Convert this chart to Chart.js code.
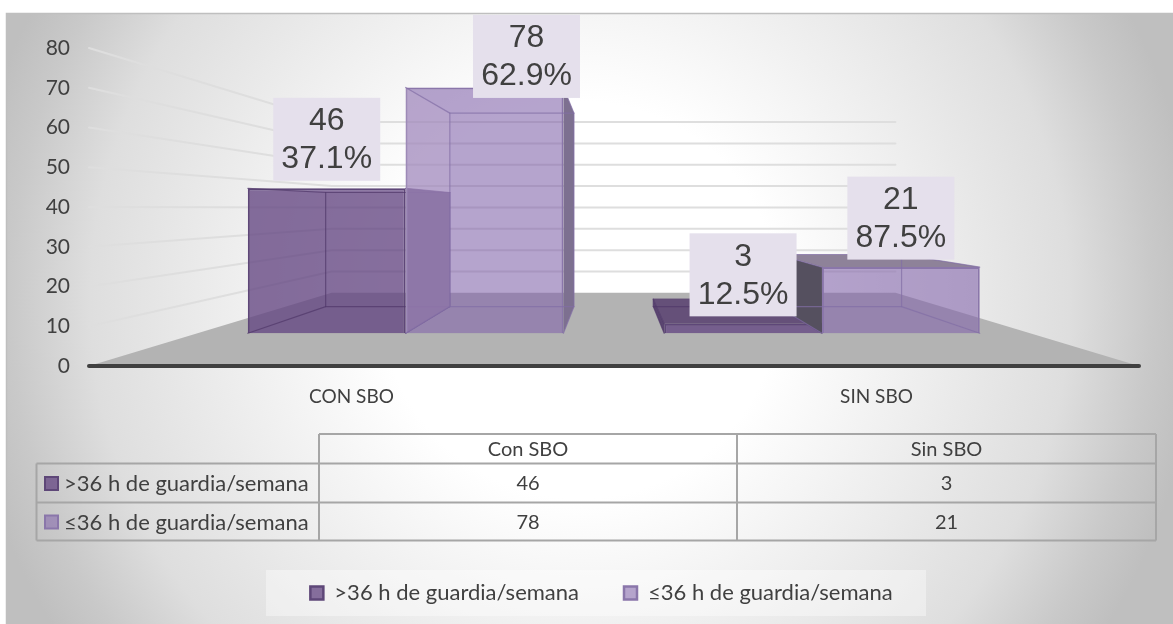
<!DOCTYPE html>
<html><head><meta charset="utf-8">
<style>html,body{margin:0;padding:0;background:#fff}canvas{display:block}</style>
<script src="https://cdn.jsdelivr.net/npm/chart.js@4"></script>
</head><body><canvas id="c" width="1173" height="624"></canvas>
<script>
const categories = ['CON SBO', 'SIN SBO'];
const tableColumns = ['Con SBO', 'Sin SBO'];
const seriesNames = ['>36 h de guardia/semana', '≤36 h de guardia/semana'];
const over36 = [46, 3];
const upTo36 = [78, 21];
const over36Pct = ['37.1%', '12.5%'];
const upTo36Pct = ['62.9%', '87.5%'];

const VP = {x: 613, y: 208};
const F_FRONT = 0.793, F_BACK = 0.624, F_WALL = 0.537;
const SANS = 'Lato, "Open Sans", sans-serif';
const styles = [
  {front:'rgba(100,70,130,0.77)', inner:'rgba(100,70,125,0.07)', edge:'#5e4778', line:'rgba(80,55,105,0.7)',
   outerLeft:'#5a4570', outerRight:'#5a4570', outerTop:'#655079'},
  {front:'rgba(130,100,170,0.57)', inner:'rgba(130,100,170,0.05)', edge:'#8a76aa', line:'rgba(130,110,165,0.7)',
   outerLeft:'#55505f', outerRight:'#7d7090', outerTop:'#8e8299', veil:'rgba(190,172,205,0.38)'}
];
const pctArrays = [over36Pct, upTo36Pct];
// label shift from the default spot above the bar's front face; the 78 label was moved in the source
const labelShift = [[[0,0],[0,0]], [[42,18],[0,0]]];

const project = (x, y, f) => [VP.x + (x - VP.x) * f, VP.y + (y - VP.y) * f];
function poly(ctx, pts, fill, stroke, lw) {
  ctx.beginPath();
  pts.forEach((p, i) => i ? ctx.lineTo(p[0], p[1]) : ctx.moveTo(p[0], p[1]));
  ctx.closePath();
  if (fill) { ctx.fillStyle = fill; ctx.fill(); }
  if (stroke) { ctx.strokeStyle = stroke; ctx.lineWidth = lw || 1; ctx.stroke(); }
}
function drawPrism(ctx, el, st) {
  const l = el.x - el.width / 2, r = el.x + el.width / 2, t = el.y, b = el.base;
  const fTL = project(l,t,F_FRONT), fTR = project(r,t,F_FRONT), fBL = project(l,b,F_FRONT), fBR = project(r,b,F_FRONT);
  const bTL = project(l,t,F_BACK), bTR = project(r,t,F_BACK), bBL = project(l,b,F_BACK), bBR = project(r,b,F_BACK);
  const faces = {
    back:[bTL,bTR,bBR,bBL], bottom:[fBL,fBR,bBR,bBL], left:[fTL,fBL,bBL,bTL], right:[fTR,fBR,bBR,bTR], top:[fTL,fTR,bTR,bTL]
  };
  const outL = bTL[0] < fTL[0], outR = bTR[0] > fTR[0], outT = bTL[1] < fTL[1];
  poly(ctx, faces.back, st.inner); poly(ctx, faces.bottom, st.inner);
  if (!outL) poly(ctx, faces.left, st.inner);
  if (!outR) poly(ctx, faces.right, st.inner);
  if (!outT) poly(ctx, faces.top, st.inner);
  ctx.save();
  ctx.translate(VP.x * (1 - F_FRONT), VP.y * (1 - F_FRONT));
  ctx.scale(F_FRONT, F_FRONT);
  el.draw(ctx);
  ctx.restore();
  if (!outL && st.veil) poly(ctx, faces.left, st.veil);
  if (outL) poly(ctx, faces.left, st.outerLeft);
  if (outR) poly(ctx, faces.right, st.outerRight);
  if (outT) poly(ctx, faces.top, st.outerTop);
  ctx.lineJoin = 'round';
  poly(ctx, faces.back, null, st.line, 1.2);
  [[fTL,bTL],[fTR,bTR],[fBL,bBL],[fBR,bBR]].forEach(s => poly(ctx, s, null, st.line, 1.2));
}

const scene = {
  id: 'scene',
  beforeDraw(chart) {
    const ctx = chart.ctx, W = chart.width, H = chart.height;
    ctx.save();
    ctx.fillStyle = '#fff'; ctx.fillRect(0, 0, W, H);
    const g = ctx.createRadialGradient(580, 300, 0, 580, 300, 620);
    g.addColorStop(0, '#ffffff'); g.addColorStop(0.32, '#ffffff'); g.addColorStop(0.79, '#dedede');
    g.addColorStop(0.92, '#c9c9c9'); g.addColorStop(1, '#bfbfbf');
    ctx.fillStyle = g; ctx.fillRect(6, 13, W - 6, H - 13);
    ctx.strokeStyle = '#bfbfbf'; ctx.lineWidth = 1.5;
    ctx.beginPath(); ctx.moveTo(6.5, H); ctx.lineTo(6.5, 13.5); ctx.lineTo(W, 13.5); ctx.stroke();
    ctx.fillStyle = 'rgba(255,255,255,0.38)'; ctx.fillRect(266, 570, 660, 46);
    ctx.restore();
    drawTable(chart);
  },
  beforeDatasetDraw() { return false; },
  beforeDatasetsDraw(chart) {
    const ctx = chart.ctx, xs = chart.scales.x, ys = chart.scales.y;
    const L = xs.left, R = xs.right;
    ctx.save();
    poly(ctx, [[L, ys.bottom], project(L, ys.bottom, F_WALL), project(R, ys.bottom, F_WALL), [R, ys.bottom]], '#b3b3b3');
    ctx.lineCap = 'round';
    ys.ticks.forEach(t => {
      if (t.value === 0) return;
      const y = ys.getPixelForValue(t.value);
      const a = project(L, y, F_WALL), b = project(R, y, F_WALL);
      ctx.strokeStyle = '#dedede'; ctx.lineWidth = 2;
      ctx.beginPath(); ctx.moveTo(L, y); ctx.lineTo(a[0], a[1]); ctx.lineTo(b[0], b[1]); ctx.stroke();
    });
    chart.data.datasets.forEach((ds, i) => {
      chart.getDatasetMeta(i).data.forEach(el => drawPrism(ctx, el, styles[i]));
    });
    ctx.strokeStyle = '#404040'; ctx.lineWidth = 4;
    ctx.beginPath(); ctx.moveTo(L, ys.bottom); ctx.lineTo(R, ys.bottom); ctx.stroke();
    ctx.restore();
  },
  afterDatasetsDraw(chart) {
    const ctx = chart.ctx;
    ctx.save();
    chart.data.datasets.forEach((ds, i) => {
      chart.getDatasetMeta(i).data.forEach((el, j) => {
        const p = project(el.x, el.y, F_FRONT), s = labelShift[i][j];
        const cx = p[0] + s[0], cy = p[1] - 49 + s[1];
        ctx.fillStyle = '#e5e0ec'; ctx.fillRect(cx - 53.5, cy - 41.5, 107, 83);
        ctx.fillStyle = '#404040';
        ctx.font = '32px "Liberation Sans", Arial, sans-serif';
        ctx.textAlign = 'center'; ctx.textBaseline = 'middle';
        ctx.fillText(String(ds.data[j]), cx, cy - 18);
        ctx.fillText(pctArrays[i][j], cx, cy + 20);
      });
    });
    ctx.restore();
  },
  afterLayout(chart) {
    const lg = chart.legend;
    lg.left += 32; lg.right += 32;
    lg.top = 537; lg.bottom = lg.top + lg.height;
  }
};

function drawTable(chart) {
  const ctx = chart.ctx;
  const X = [36.5, 319, 737, 1156], Y = [434, 463.5, 502.5, 540.5];
  ctx.save();
  ctx.strokeStyle = '#a6a6a6'; ctx.lineWidth = 2;
  ctx.beginPath();
  ctx.moveTo(X[1], Y[0]); ctx.lineTo(X[3], Y[0]);
  ctx.moveTo(X[0], Y[1]); ctx.lineTo(X[3], Y[1]);
  ctx.moveTo(X[0], Y[2]); ctx.lineTo(X[3], Y[2]);
  ctx.moveTo(X[0], Y[3]); ctx.lineTo(X[3], Y[3]);
  ctx.moveTo(X[0], Y[1]); ctx.lineTo(X[0], Y[3]);
  ctx.moveTo(X[1], Y[0]); ctx.lineTo(X[1], Y[3]);
  ctx.moveTo(X[2], Y[0]); ctx.lineTo(X[2], Y[3]);
  ctx.moveTo(X[3], Y[0]); ctx.lineTo(X[3], Y[3]);
  ctx.stroke();
  ctx.fillStyle = '#404040'; ctx.textBaseline = 'middle';
  ctx.textAlign = 'center';
  ctx.font = '20px ' + SANS;
  tableColumns.forEach((c, j) => ctx.fillText(c, (X[j+1] + X[j+2]) / 2, (Y[0] + Y[1]) / 2 + 1));
  chart.data.datasets.forEach((ds, i) => {
    const cy = (Y[i+1] + Y[i+2]) / 2 + 1;
    ctx.textAlign = 'left';
    ctx.fillStyle = ds.backgroundColor; ctx.strokeStyle = ds.borderColor; ctx.lineWidth = 2;
    ctx.fillRect(45, cy - 7, 13, 13); ctx.strokeRect(45, cy - 7, 13, 13);
    ctx.fillStyle = '#404040';
    ctx.font = '22px ' + SANS;
    ctx.fillText(ds.label, 64, cy);
    ctx.font = '20px ' + SANS;
    ctx.textAlign = 'center';
    ds.data.forEach((v, j) => ctx.fillText(String(v), (X[j+1] + X[j+2]) / 2, cy));
  });
  ctx.restore();
}

new Chart(document.getElementById('c'), {
  type: 'bar',
  data: {
    labels: categories,
    datasets: [
      {label: seriesNames[0], data: over36, backgroundColor: styles[0].front, borderColor: styles[0].edge, borderWidth: 2.5},
      {label: seriesNames[1], data: upTo36, backgroundColor: styles[1].front, borderColor: styles[1].edge, borderWidth: 2.5}
    ]
  },
  options: {
    responsive: false, animation: false, devicePixelRatio: 1,
    categoryPercentage: 0.758, barPercentage: 1,
    layout: {padding: {top: 48, right: 34, bottom: 0, left: 0}},
    plugins: {
      tooltip: {enabled: false},
      legend: {
        position: 'bottom',
        labels: {boxWidth: 13, boxHeight: 13, padding: 45, color: '#404040', font: {family: SANS, size: 22}}
      }
    },
    scales: {
      x: {
        grid: {display: false, drawTicks: false}, border: {display: false},
        ticks: {color: '#404040', padding: 19, font: {family: SANS, size: 19}, maxRotation: 0},
        afterFit(s) { s.height = 624 - 366 - 77; }
      },
      y: {
        min: 0, max: 80,
        grid: {display: false, drawTicks: false}, border: {display: false},
        ticks: {stepSize: 10, color: '#404040', padding: 19, font: {family: SANS, size: 21}},
        afterFit(s) { s.width = 89; }
      }
    }
  },
  plugins: [scene]
});
</script></body></html>
